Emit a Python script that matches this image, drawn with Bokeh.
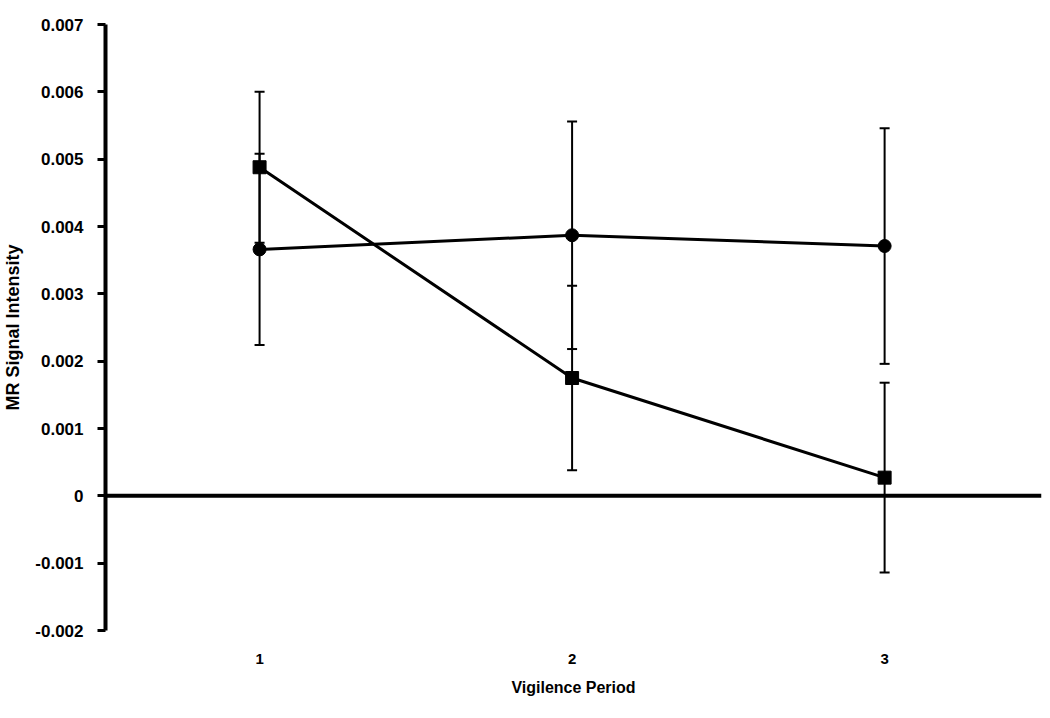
from bokeh.plotting import figure
from bokeh.models import ColumnDataSource, Whisker, TeeHead, Span, FixedTicker, Range1d
from bokeh.embed import file_html
from bokeh.resources import INLINE

# ---- data ----
periods = [1, 2, 3]
square_mean = [0.00488, 0.00175, 0.00027]
square_err = [0.00112, 0.00137, 0.00141]
circle_mean = [0.00366, 0.00387, 0.00371]
circle_err = [0.00142, 0.00169, 0.00175]
y_ticks = [-0.002, -0.001, 0, 0.001, 0.002, 0.003, 0.004, 0.005, 0.006, 0.007]
y_tick_labels = ["-0.002", "-0.001", "0", "0.001", "0.002", "0.003", "0.004", "0.005", "0.006", "0.007"]
x_tick_labels = ["1", "2", "3"]

FONT = "Liberation Sans"

sq = ColumnDataSource(dict(
    x=periods, y=square_mean,
    lo=[m - e for m, e in zip(square_mean, square_err)],
    hi=[m + e for m, e in zip(square_mean, square_err)],
))
ci = ColumnDataSource(dict(
    x=periods, y=circle_mean,
    lo=[m - e for m, e in zip(circle_mean, circle_err)],
    hi=[m + e for m, e in zip(circle_mean, circle_err)],
))

p = figure(width=1044, height=708, output_backend="svg", toolbar_location=None,
           x_range=Range1d(0.507, 3.502), y_range=Range1d(-0.002, 0.007),
           min_border_left=105, min_border_right=3, min_border_top=24, min_border_bottom=78)
p.outline_line_color = None
p.xgrid.grid_line_color = None
p.ygrid.grid_line_color = None
p.background_fill_color = "white"
p.border_fill_color = "white"

# zero line
p.add_layout(Span(location=0, dimension="width", line_color="black", line_width=4))

# error bars
for src in (sq, ci):
    w = Whisker(source=src, base="x", lower="lo", upper="hi",
                line_color="black", line_width=2,
                upper_head=TeeHead(size=10, line_width=2, line_color="black"),
                lower_head=TeeHead(size=10, line_width=2, line_color="black"))
    p.add_layout(w)

# series
p.line("x", "y", source=sq, line_color="black", line_width=3)
p.scatter("x", "y", source=sq, marker="square", size=13, fill_color="black", line_color="black")
p.line("x", "y", source=ci, line_color="black", line_width=3)
p.scatter("x", "y", source=ci, marker="circle", size=13, fill_color="black", line_color="black")

# y axis
ya = p.yaxis[0]
ya.ticker = FixedTicker(ticks=y_ticks)
ya.major_label_overrides = {t: l for t, l in zip(y_ticks, y_tick_labels)}
ya.minor_tick_line_color = None
ya.axis_line_width = 4
ya.axis_line_color = "black"
ya.major_tick_line_width = 3
ya.major_tick_out = 8
ya.major_tick_in = 0
ya.major_label_standoff = 14
ya.major_label_text_font = FONT
ya.major_label_text_font_style = "bold"
ya.major_label_text_font_size = "17px"
ya.major_label_text_color = "black"
ya.axis_label = "MR Signal Intensity"
ya.axis_label_text_font = FONT
ya.axis_label_text_font_style = "bold"
ya.axis_label_text_font_size = "18px"
ya.axis_label_text_color = "black"
ya.axis_label_standoff = 9

# x axis
xa = p.xaxis[0]
xa.ticker = FixedTicker(ticks=periods)
xa.major_label_overrides = {t: l for t, l in zip(periods, x_tick_labels)}
xa.minor_tick_line_color = None
xa.axis_line_color = None
xa.major_tick_line_color = None
xa.major_tick_out = 0
xa.major_tick_in = 0
xa.major_label_standoff = 23
xa.major_label_text_font = FONT
xa.major_label_text_font_style = "bold"
xa.major_label_text_font_size = "15px"
xa.major_label_text_color = "black"
xa.axis_label = "Vigilence Period"
xa.axis_label_text_font = FONT
xa.axis_label_text_font_style = "bold"
xa.axis_label_text_font_size = "16px"
xa.axis_label_text_color = "black"
xa.axis_label_standoff = 12

open("out.html", "w").write(file_html(p, INLINE))
